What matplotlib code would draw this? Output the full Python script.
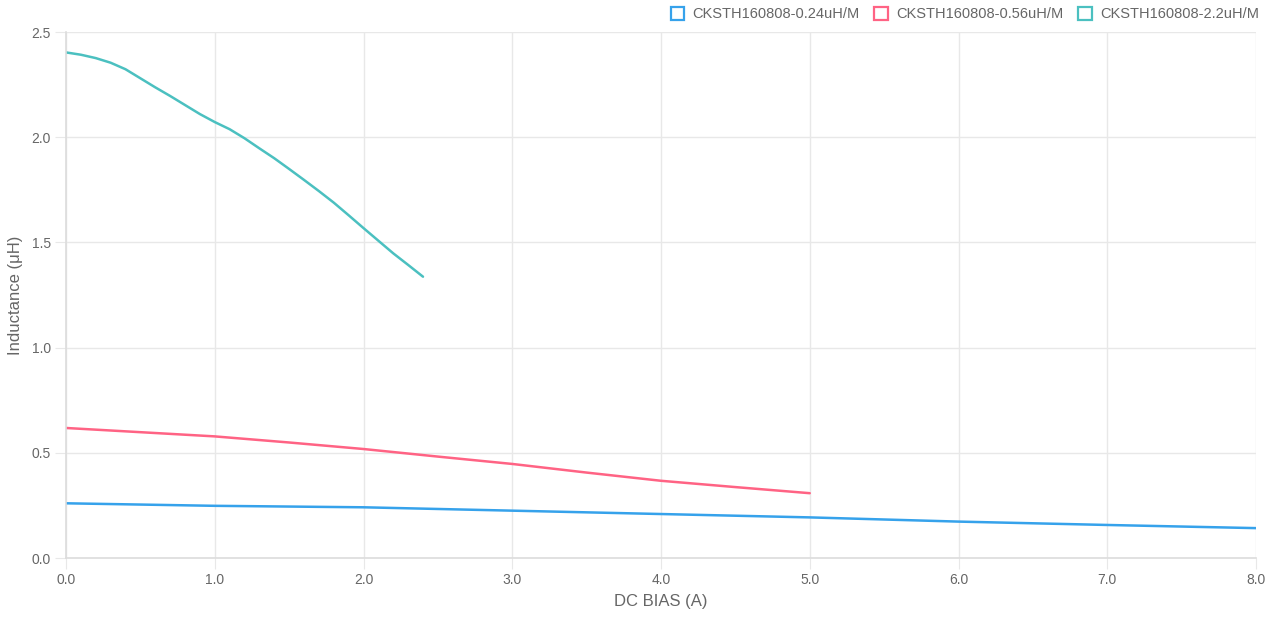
import matplotlib
matplotlib.use("Agg")
import matplotlib.pyplot as plt
from matplotlib.patches import Patch

plt.rcParams['font.family'] = ['Liberation Sans', 'DejaVu Sans']

series_names = ["CKSTH160808-0.24uH/M", "CKSTH160808-0.56uH/M", "CKSTH160808-2.2uH/M"]
colors = ["#36a2eb", "#ff6384", "#4bc0c0"]

x_024 = [0, 1, 2, 3, 4, 5, 6, 7, 8]
y_024 = [0.260, 0.248, 0.241, 0.225, 0.209, 0.193, 0.173, 0.157, 0.142]

x_056 = [0, 0.5, 1, 1.5, 2, 2.5, 3, 3.5, 4, 4.5, 5]
y_056 = [0.618, 0.598, 0.578, 0.549, 0.518, 0.482, 0.447, 0.406, 0.367, 0.337, 0.308]

x_22 = [0, 0.1, 0.2, 0.3, 0.4, 0.5, 0.6, 0.7, 0.8, 0.9, 1.0, 1.1, 1.2,
        1.3, 1.4, 1.5, 1.6, 1.7, 1.8, 1.9, 2.0, 2.1, 2.2, 2.3, 2.4]
y_22 = [2.403, 2.392, 2.376, 2.354, 2.323, 2.280, 2.237, 2.196, 2.153, 2.110, 2.072,
        2.038, 1.995, 1.947, 1.900, 1.849, 1.797, 1.744, 1.689, 1.629, 1.568,
        1.508, 1.448, 1.393, 1.337]

x_ticks = [0, 1, 2, 3, 4, 5, 6, 7, 8]
y_ticks = [0, 0.5, 1.0, 1.5, 2.0, 2.5]

fig = plt.figure(figsize=(12.77, 6.2), dpi=100)
ax = fig.add_axes([66/1277, 62/620, (1256-66)/1277, (558-32)/620])

for xs, ys, c in zip([x_024, x_056, x_22], [y_024, y_056, y_22], colors):
    ax.plot(xs, ys, color=c, lw=1.8, solid_capstyle='round', solid_joinstyle='round')

ax.set_xlim(0, 8)
ax.set_ylim(0, 2.5)
ax.set_xticks(x_ticks)
ax.set_xticklabels([f"{v:.1f}" for v in x_ticks])
ax.set_yticks(y_ticks)
ax.set_yticklabels([f"{v:.1f}" for v in y_ticks])
ax.grid(True, color="#e8e8e8", lw=1)
ax.set_axisbelow(True)
for s in ["top", "right"]:
    ax.spines[s].set_visible(False)
for s in ["left", "bottom"]:
    ax.spines[s].set_color("#dcdcdc")
    ax.spines[s].set_linewidth(1.2)
ax.tick_params(axis='both', length=8, color="#e8e8e8", labelcolor="#666666", labelsize=10, pad=3)
ax.set_xlabel("DC BIAS (A)", color="#666666", fontsize=12, labelpad=5)
ax.set_ylabel("Inductance (μH)", color="#666666", fontsize=12, labelpad=6)

handles = [Patch(facecolor="white", edgecolor=c, linewidth=1.6) for c in colors]
fig.legend(handles, series_names, loc="upper right", bbox_to_anchor=(1272/1277, 1.01),
           ncol=3, frameon=False, fontsize=10.5, handlelength=0.95, handleheight=0.95,
           handletextpad=0.55, columnspacing=1.0, labelcolor="#666666")

fig.savefig("out.png", dpi=100)
